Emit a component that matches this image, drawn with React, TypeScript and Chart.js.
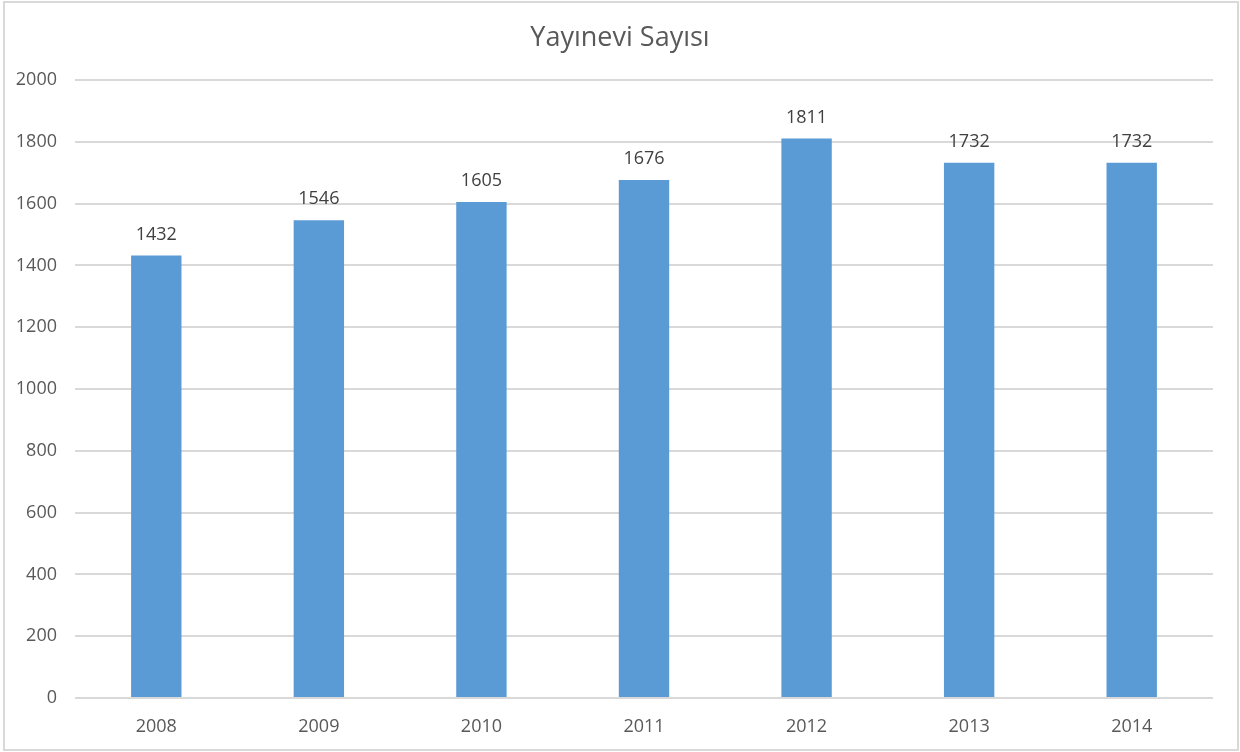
import React, { useEffect, useRef } from "react";
import { Chart, registerables } from "chart.js";

Chart.register(...registerables);

const categories = ["2008", "2009", "2010", "2011", "2012", "2013", "2014"];
const values = [1432, 1546, 1605, 1676, 1811, 1732, 1732];
const yTicks = [0, 200, 400, 600, 800, 1000, 1200, 1400, 1600, 1800, 2000];
const title = "Yayınevi Sayısı";

const FONT = "'Open Sans', 'Noto Sans', sans-serif";

export default function App() {
  const ref = useRef<HTMLCanvasElement | null>(null);
  useEffect(() => {
    document.body.style.margin = "0";
    const canvas = ref.current!;
    const framePlugin = {
      id: "frame",
      beforeDraw(chart: any) {
        const ctx = chart.ctx;
        ctx.save();
        ctx.fillStyle = "#ffffff";
        ctx.fillRect(0, 0, chart.width, chart.height);
        ctx.strokeStyle = "#d9d9d9";
        ctx.lineWidth = 2;
        ctx.strokeRect(4, 2, chart.width - 6, chart.height - 4);
        ctx.fillStyle = "#595959";
        ctx.font = `27px ${FONT}`;
        ctx.textAlign = "center";
        ctx.textBaseline = "middle";
        ctx.fillText(title, chart.width / 2, 38);
        ctx.restore();
      },
      afterDatasetsDraw(chart: any) {
        const ctx = chart.ctx;
        const meta = chart.getDatasetMeta(0);
        ctx.save();
        ctx.fillStyle = "#404040";
        ctx.font = `18px ${FONT}`;
        ctx.textAlign = "center";
        ctx.textBaseline = "middle";
        meta.data.forEach((bar: any, i: number) => {
          ctx.fillText(String(values[i]), bar.x, bar.y - 21);
        });
        ctx.restore();
      },
    };
    const chart = new Chart(canvas, {
      type: "bar",
      data: {
        labels: categories,
        datasets: [
          {
            data: values,
            backgroundColor: "#5b9bd5",
            categoryPercentage: 1,
            barPercentage: 0.31,
          },
        ],
      },
      options: {
        animation: false,
        responsive: false,
        maintainAspectRatio: false,
        layout: { padding: { left: 0, right: 27, top: 80, bottom: 0 } },
        plugins: {
          legend: { display: false },
          tooltip: { enabled: false },
          title: { display: false },
        },
        scales: {
          x: {
            grid: { display: false },
            border: { display: false },
            ticks: {
              color: "#595959",
              font: { family: FONT, size: 18 },
              padding: 10,
            },
            afterFit(scale: any) {
              scale.height = 54;
            },
          },
          y: {
            min: 0,
            max: 2000,
            afterBuildTicks(scale: any) {
              scale.ticks = yTicks.map((v) => ({ value: v }));
            },
            grid: { color: "#d9d9d9", lineWidth: 2, drawTicks: false },
            border: { display: false },
            ticks: {
              color: "#595959",
              font: { family: FONT, size: 18 },
              padding: 18,
              callback: (v: any) => String(v),
            },
            afterFit(scale: any) {
              scale.width = 75;
            },
          },
        },
      },
      plugins: [framePlugin],
    });
    return () => chart.destroy();
  }, []);
  return <canvas ref={ref} width={1240} height={752} style={{ display: "block" }} />;
}
